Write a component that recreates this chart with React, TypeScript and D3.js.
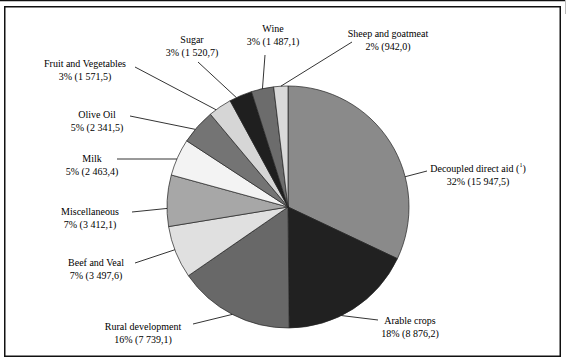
import React from 'react';
import * as d3 from 'd3';

// EU agricultural expenditure by sector (million EUR)
const sectors = [
  'Decoupled direct aid', 'Arable crops', 'Rural development', 'Beef and Veal',
  'Miscellaneous', 'Milk', 'Olive Oil', 'Fruit and Vegetables', 'Sugar', 'Wine',
  'Sheep and goatmeat',
];
const amounts = [15947.5, 8876.2, 7739.1, 3497.6, 3412.1, 2463.4, 2341.5, 1571.5, 1520.7, 1487.1, 942.0];
const amountLabels = [
  '32% (15 947,5)', '18% (8 876,2)', '16% (7 739,1)', '7% (3 497,6)', '7% (3 412,1)',
  '5% (2 463,4)', '5% (2 341,5)', '3% (1 571,5)', '3% (1 520,7)', '3% (1 487,1)', '2% (942,0)',
];
const fills = [
  '#8a8a8a', '#212121', '#686868', '#e0e0e0', '#a7a7a7', '#f3f3f3',
  '#747474', '#d6d6d6', '#1f1f1f', '#6c6c6c', '#d9d9d9',
];

// label placement: text centre x, first line centre y, leader start, where along the slice the leader hits
const labelLayout = [
  { x: 478, y: 168, lx: 427, ly: 171, at: 0.655 },
  { x: 410, y: 320, lx: 378, ly: 320, at: 0.6 },
  { x: 143, y: 326, lx: 193, ly: 324, at: 0.5 },
  { x: 96, y: 262, lx: 135, ly: 263, at: 0.55 },
  { x: 90, y: 211, lx: 132, ly: 212, at: 0.35 },
  { x: 92, y: 158, lx: 117, ly: 159, at: 0.45 },
  { x: 97, y: 114, lx: 130, ly: 116, at: 0.4 },
  { x: 85, y: 63, lx: 135, ly: 67, at: 0.3 },
  { x: 192, y: 39, lx: 198, ly: 62, at: 0.3 },
  { x: 273, y: 28, lx: 265, ly: 55, at: 0.5 },
  { x: 388, y: 33, lx: 352, ly: 42, at: 0.5 },
];

const width = 567;
const height = 360;
const cx = 288;
const cy = 207;
const radius = 121;

export default function App() {
  const pie = d3.pie<number>().sort(null).value(d => d).startAngle(0).endAngle(2 * Math.PI);
  const arcs = pie(amounts);
  const arc = d3.arc<d3.PieArcDatum<number>>().innerRadius(0).outerRadius(radius);

  return (
    <svg width={width} height={height} style={{ position: 'absolute', left: 0, top: 0 }}
      fontFamily='"Times New Roman", "Liberation Serif", serif' fontSize={10}>
      <rect x={0} y={0} width={width} height={height} fill="#fff" />
      <line x1={0} x2={566} y1={0.5} y2={0.5} stroke="#111" strokeWidth={1.5} />
      <line x1={565.5} x2={565.5} y1={0} y2={14} stroke="#bbb" strokeWidth={1} />
      <rect x={4.75} y={6.75} width={555.5} height={349.5} fill="none" stroke="#111" strokeWidth={1.5} />
      <g transform={`translate(${cx},${cy})`}>
        {arcs.map((a, i) => (
          <path key={sectors[i]} d={arc(a) || ''} fill={fills[i]} stroke="#222" strokeWidth={0.7} />
        ))}
      </g>
      {arcs.map((a, i) => {
        const lay = labelLayout[i];
        const ang = a.startAngle + (a.endAngle - a.startAngle) * lay.at;
        const ex = cx + radius * Math.sin(ang);
        const ey = cy - radius * Math.cos(ang);
        return (
          <g key={'lbl' + i}>
            <line x1={lay.lx} y1={lay.ly} x2={ex} y2={ey} stroke="#000" strokeWidth={0.8} />
            <text x={lay.x} y={lay.y} textAnchor="middle" dominantBaseline="central" fill="#000">
              {sectors[i]}
              {i === 0 ? (
                <>
                  {' ('}
                  <tspan fontSize={6} dy={-3}>1</tspan>
                  <tspan dy={3}>)</tspan>
                </>
              ) : null}
            </text>
            <text x={lay.x} y={lay.y + 13.5} textAnchor="middle" dominantBaseline="central" fill="#000">
              {amountLabels[i]}
            </text>
          </g>
        );
      })}
    </svg>
  );
}
